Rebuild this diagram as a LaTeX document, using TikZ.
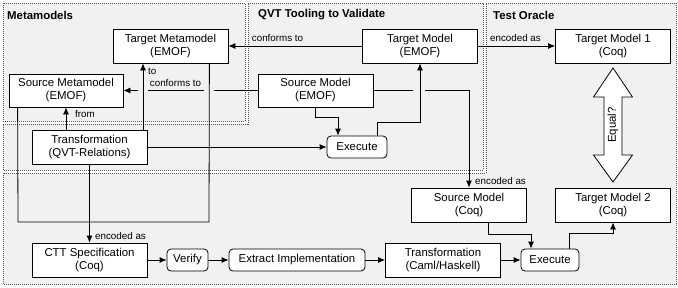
\documentclass[tikz,border=0pt]{standalone}
\usepackage{fontspec}
\setmainfont{Liberation Sans}
\usetikzlibrary{arrows.meta}
\definecolor{regionfill}{HTML}{F1F1F1}
\definecolor{regionline}{HTML}{555555}
\newcommand{\nodefont}{\fontsize{11.4}{13}\selectfont}
\newcommand{\lblfont}{\fontsize{9.8}{11}\selectfont}
\newcommand{\ttlfont}{\fontsize{11.4}{13}\selectfont\bfseries}
\begin{document}
\begin{tikzpicture}[x=1pt,y=-1pt,
  box/.style={draw=black, fill=white, line width=0.8pt, inner sep=0pt, align=center, font=\nodefont},
  wbox/.style={box, minimum width=115pt, minimum height=34pt},
  rbox/.style={box, rounded corners=4pt, minimum height=22pt},
  region/.style={fill=regionfill, draw=regionline, line width=1pt, dash pattern=on 1pt off 1pt},
  conn/.style={draw=black, line width=0.8pt},
  arr/.style={conn, -{Latex[length=7pt,width=6pt]}},
  lbl/.style={font=\lblfont, inner sep=0pt},
  ttl/.style={font=\ttlfont, inner sep=0pt, anchor=west},
]
\useasboundingbox (0,0) rectangle (678,287);
\fill[white] (0,0) rectangle (678,287);

% regions
\draw[region] (3,3) rectangle (245,121);
\draw[region] (248,3) -- (483,3) -- (483,170) -- (3,170) -- (3,124) -- (248,124) -- cycle;
\draw[region] (486,3) -- (676,3) -- (676,284) -- (3,284) -- (3,173) -- (486,173) -- cycle;

\node[ttl] (tMeta) at (7,15) {Metamodels};
\node[ttl] (tQVT) at (258,15) {QVT Tooling to Validate};
\node[ttl] (tOracle) at (493,15) {Test Oracle};

% nodes
\node[wbox] (tmm) at (170.5,46) {Target Metamodel\\(EMOF)};
\node[wbox, minimum width=114pt, minimum height=33pt] (smm) at (66,90.5) {Source Metamodel\\(EMOF)};
\node[wbox] (qvt) at (89.5,147) {Transformation\\(QVT-Relations)};
\node[wbox] (tm) at (420,46) {Target Model\\(EMOF)};
\node[wbox, minimum height=33pt] (sm) at (315.5,90.5) {Source Model\\(EMOF)};
\node[rbox, minimum width=60pt] (ex1) at (357,147) {Execute};
\node[wbox] (tm1) at (613,46) {Target Model 1\\(Coq)};
\node[wbox] (tm2) at (613,205) {Target Model 2\\(Coq)};
\node[wbox] (smc) at (469,205) {Source Model\\(Coq)};
\node[wbox] (caml) at (443,260) {Transformation\\(Caml/Haskell)};
\node[rbox, minimum width=58pt] (ex2) at (550,260) {Execute};
\node[wbox] (ctt) at (89.5,260) {CTT Specification\\(Coq)};
\node[rbox, minimum width=41pt] (ver) at (187.5,260) {Verify};
\node[rbox, minimum width=136pt] (ext) at (297,260) {Extract Implementation};

% equal double arrow
\draw[conn, fill=white] (613,68) -- (632.5,97) -- (622,97) -- (622,155) -- (632.5,155) -- (613,182)
  -- (593.5,155) -- (604,155) -- (604,97) -- (593.5,97) -- cycle;
\node[inner sep=0pt, rotate=90, font=\nodefont] (eq) at (613,125) {Equal?};

% connectors
\draw[arr] (tm.west) -- (tmm.east);
\node[lbl] (l1) at (277.5,38) {conforms to};

\coordinate (g1a) at (214,90.5);
\coordinate (g1b) at (204,90.5);
\coordinate (g2a) at (148,90.5);
\coordinate (g2b) at (138,90.5);
\draw[conn] (sm.west) -- (g1a);
\draw[conn] (g1b) -- (g2a);
\draw[arr] (g2b) -- (smm.east);
\node[lbl] (l2) at (175.5,83) {conforms to};

\coordinate (g3a) at (413,90.5);
\coordinate (g3b) at (425,90.5);
\coordinate (c3) at (469,90.5);
\draw[conn] (sm.east) -- (g3a);
\draw[arr] (g3b) -- (c3) -- (smc.north);
\node[lbl, anchor=west] (l3) at (475,181) {encoded as};

\draw[arr] (sm.south) -- ++(0,10) -| ([xshift=-19pt]ex1.north);
\draw[arr] ([xshift=20pt]ex1.north) -- ++(0,-13) -| (tm.south);
\draw[arr] (qvt.east) -- (ex1.west);

\draw[arr] (qvt.north -| smm.south) -- (smm.south);
\node[lbl, anchor=west] (l4) at (75,114) {from};

\draw[arr] ([xshift=53.5pt]qvt.north) -- ([xshift=53.5pt]qvt.north |- tmm.south);
\node[lbl, anchor=west] (l5) at (148,71) {to};

\coordinate (bl) at (18,222);
\coordinate (br) at (209,222);
\draw[conn] ([xshift=9pt]smm.south west) -- (bl) -- (br) -- ([xshift=-19pt]tmm.south east);

\draw[arr] (tm.east) -- (tm1.west);
\node[lbl] (l6) at (515.5,38) {encoded as};

\draw[arr] (qvt.south) -- (ctt.north);
\node[lbl, anchor=west] (l7) at (95,236) {encoded as};

\draw[arr] (ctt.east) -- (ver.west);
\draw[arr] (ver.east) -- (ext.west);
\draw[arr] (ext.east) -- (caml.west);
\draw[arr] (caml.east) -- (ex2.west);

\draw[arr] ([xshift=19pt]smc.south) -- ++(0,12) -| ([xshift=-19pt]ex2.north);
\draw[arr] ([xshift=19pt]ex2.north) -- ++(0,-15) -| (tm2.south);
\end{tikzpicture}
\end{document}
